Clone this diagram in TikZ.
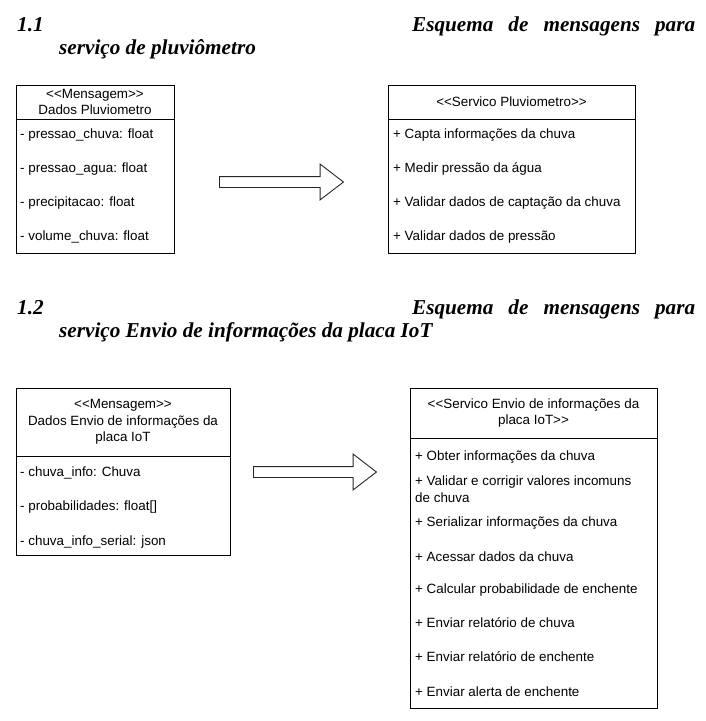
\documentclass[tikz,border=0pt]{standalone}
\usepackage{fontspec}
\newfontfamily\umlfont{Liberation Sans}
\newfontfamily\headfont{Liberation Serif}
\usetikzlibrary{positioning,shapes.arrows}

\begin{document}
\begin{tikzpicture}[x=1pt,y=-1pt,
  umlbox/.style={draw,line width=0.9pt,inner sep=0pt},
  headtxt/.style={align=center,font=\umlfont\fontsize{13.4}{16.5}\selectfont,inner sep=0pt},
  attr/.style={anchor=west,font=\umlfont\fontsize{13.4}{16.5}\selectfont,inner sep=0pt},
  heading/.style={anchor=base west,font=\headfont\bfseries\itshape\fontsize{21.2}{24}\selectfont,inner sep=0pt},
  bigarrow/.style={draw,line width=0.9pt,black!85,single arrow,single arrow head extend=12.5pt,
    single arrow tip angle=75,inner xsep=0pt,inner ysep=5pt,minimum height=124pt,anchor=tail}]
 \useasboundingbox (0,0) rectangle (706,721);
 % 1.1
 \node[heading] (numA) at (17,31) {1.1};
 \node[heading] (titA) at (412,31) {\hbox to 283pt{Esquema\hfill de\hfill mensagens\hfill para}};
 \node[heading] (subA) at (59,54) {serviço de pluviômetro};
 \node[umlbox,minimum width=158pt,minimum height=34pt] (pluvHead) at (95,102) {};
 \node[umlbox,minimum width=158pt,minimum height=134pt,below=0pt of pluvHead] (pluvBody) {};
 \node[headtxt] (pluvName) at (pluvHead) {<<Mensagem>>\\Dados Pluviometro};
 \node[attr] (pa1) at (20,135) {- pressao\_chuva: float};
 \node[attr] (pa2) at (20,169) {- pressao\_agua: float};
 \node[attr] (pa3) at (20,203) {- precipitacao: float};
 \node[attr] (pa4) at (20,237) {- volume\_chuva: float};
 \node[bigarrow] (arrA) at (219,182) {};
 \node[umlbox,minimum width=247pt,minimum height=34pt] (servHead) at (511.5,102) {};
 \node[umlbox,minimum width=247pt,minimum height=134pt,below=0pt of servHead] (servBody) {};
 \node[headtxt] (servName) at (servHead) {<<Servico Pluviometro>>};
 \node[attr] (sa1) at (393,135) {+ Capta informações da chuva};
 \node[attr] (sa2) at (393,169) {+ Medir pressão da água};
 \node[attr] (sa3) at (393,203) {+ Validar dados de captação da chuva};
 \node[attr] (sa4) at (393,237) {+ Validar dados de pressão};
 % 1.2
 \node[heading] (numB) at (17,314) {1.2};
 \node[heading] (titB) at (412,314) {\hbox to 283pt{Esquema\hfill de\hfill mensagens\hfill para}};
 \node[heading] (subB) at (59,337) {serviço Envio de informações da placa IoT};
 \node[umlbox,minimum width=214pt,minimum height=68pt] (iotHead) at (123,422) {};
 \node[umlbox,minimum width=214pt,minimum height=99pt,below=0pt of iotHead] (iotBody) {};
 \node[headtxt] (iotName) at (iotHead) {<<Mensagem>>\\Dados Envio de informações da\\placa IoT};
 \node[attr] (ia1) at (20,473) {- chuva\_info: Chuva};
 \node[attr] (ia2) at (20,507) {- probabilidades: float[]};
 \node[attr] (ia3) at (20,542) {- chuva\_info\_serial: json};
 \node[bigarrow,minimum height=123pt] (arrB) at (253,472) {};
 \node[umlbox,minimum width=247pt,minimum height=50pt] (envHead) at (533.5,413) {};
 \node[umlbox,minimum width=247pt,minimum height=270pt,below=0pt of envHead] (envBody) {};
 \node[headtxt] (envName) at (envHead) {<<Servico Envio de informações da\\placa IoT>>};
 \node[attr] (ea1) at (415,457) {+ Obter informações da chuva};
 \node[attr,align=left] (ea2) at (415,489) {+ Validar e corrigir valores incomuns\\de chuva};
 \node[attr] (ea3) at (415,523) {+ Serializar informações da chuva};
 \node[attr] (ea4) at (415,557) {+ Acessar dados da chuva};
 \node[attr] (ea5) at (415,590) {+ Calcular probabilidade de enchente};
 \node[attr] (ea6) at (415,623) {+ Enviar relatório de chuva};
 \node[attr] (ea7) at (415,657) {+ Enviar relatório de enchente};
 \node[attr] (ea8) at (415,692) {+ Enviar alerta de enchente};
\end{tikzpicture}
\end{document}
